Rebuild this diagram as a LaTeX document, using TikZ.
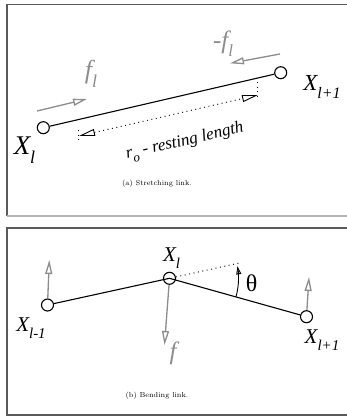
\documentclass[tikz,border=0pt]{standalone}
\usepackage{fontspec}
\newfontfamily\tms{Liberation Serif}
\usetikzlibrary{arrows.meta,calc}
\definecolor{frameg}{HTML}{5A5A5A}
\definecolor{frameb}{HTML}{B4B4B4}
\definecolor{forceg}{HTML}{8C8C8C}
\newcommand\xsub[4]{{\fontsize{#1}{#1}\selectfont #3\raisebox{-0.32em}{\fontsize{#2}{#2}\selectfont #4}}}
\begin{document}
\begin{tikzpicture}[x=1pt,y=-1pt,
  pt/.style={circle,draw,line width=1.1pt,minimum size=12pt,inner sep=0pt},
  link/.style={line width=1.1pt},
  garrow/.style={draw=forceg,line width=1.3pt,-{Triangle[open,length=14pt,width=7pt]}},
  lab/.style={font=\tms\itshape,inner sep=0pt},
  dotline/.style={line width=0.9pt,dash pattern=on 1pt off 3.5pt},
  capt/.style={font=\fontsize{7.3}{8}\selectfont,inner sep=0pt},
  framel/.style={line width=1.4pt}]
\useasboundingbox (0,0) rectangle (347,416);
% frames
\coordinate (fa) at (7,4.5); \coordinate (fb) at (7,216);
\draw[framel,frameg] (348,4.5) -- (fa) -- (fb);
\draw[framel,frameb] (fb) -- (348,216);
\coordinate (fc) at (7,228); \coordinate (fd) at (7,415);
\draw[framel,frameg] (348,228) -- (fc) -- (fd) -- (348,415);
% ---------- panel a ----------
\node[pt] (A1) at (43.3,127.7) {};
\node[pt] (A2) at (280.7,72.7) {};
\draw[link] (A1) -- (A2);
\node[lab] (LA1) at (24.5,150) {\xsub{27}{18}{X}{l}};
\node[lab] (LA2) at (322,87) {\xsub{23}{16}{X}{l+1}};
\coordinate (fa1s) at (37,111); \coordinate (fa1e) at (87,99);
\draw[garrow] (fa1s) -- (fa1e);
\node[lab,text=forceg] (fl) at (91,74) {\xsub{26}{18}{f}{l}};
\coordinate (fa2s) at (280,54); \coordinate (fa2e) at (230,63.3);
\draw[garrow] (fa2s) -- (fa2e);
\node[lab,text=forceg] (mfl) at (223,44) {\xsub{25}{17}{-f}{l}};
\coordinate (t1a) at (78,130); \coordinate (t1b) at (78,142);
\coordinate (t2a) at (257,82); \coordinate (t2b) at (257,97);
\draw[dotline] (t1a) -- (t1b);
\draw[dotline] (t2a) -- (t2b);
\coordinate (r1) at (79,136); \coordinate (r2) at (258,95);
\draw[dotline,{Triangle[open,length=16pt,width=7pt]}-{Triangle[open,length=16pt,width=7pt]}] (r1) -- (r2);
\node[lab,rotate=13] (rl) at (185,142) {\fontsize{17}{17}\selectfont r\kern-0.5pt\raisebox{-0.3em}{\fontsize{13}{13}\selectfont o} - resting length};
\node[capt] (ca) at (157,184) {(a) Stretching link.};
% ---------- panel b ----------
\node[pt] (B1) at (47.5,305) {};
\node[pt] (B2) at (169.5,278.3) {};
\node[pt] (B3) at (306.5,316.7) {};
\draw[link] (B1) -- (B2.center) -- (B3);
\draw[dotline] (B2) -- ($(B2)!-0.585!(B1)$);
\begin{scope}[shift={(B2.center)}]
\draw[line width=0.9pt,-{Triangle[open,length=8pt,width=5pt]}] plot[domain=15.5:-10,samples=30,smooth] (\x:69);
\end{scope}
\node[font=\tms,inner sep=0pt] (th) at (251.5,283.5) {\fontsize{24}{24}\selectfont θ};
\node[lab] (LB1) at (31,328) {\xsub{21}{15}{X}{l-1}};
\node[lab] (LB2) at (171.5,258) {\xsub{21}{15}{X}{l}};
\node[lab] (LB3) at (322,340) {\xsub{21}{15}{X}{l+1}};
\coordinate (gb1) at (49.3,260);
\coordinate (gb3) at (309,277);
\coordinate (gb2) at (164.5,345);
\draw[garrow] (B1) -- (gb1);
\draw[garrow] (B3) -- (gb3);
\draw[garrow] (B2) -- (gb2);
\node[lab,text=forceg] (fb) at (173,353) {\fontsize{25}{25}\selectfont f};
\node[capt] (cb) at (157,396) {(b) Bending link.};
\end{tikzpicture}
\end{document}
